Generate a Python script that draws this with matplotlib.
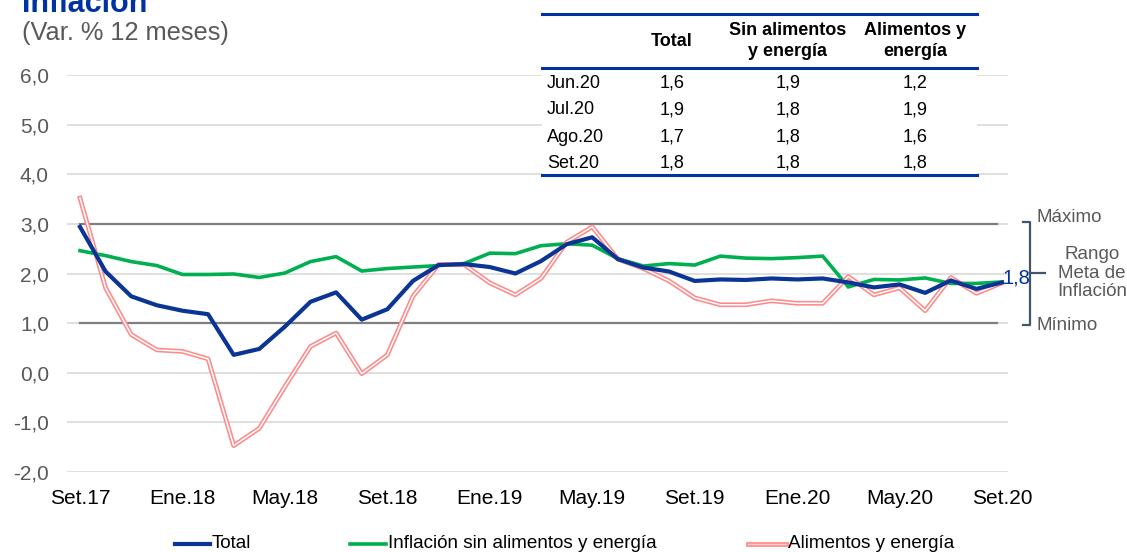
import matplotlib
matplotlib.use("Agg")
import matplotlib.pyplot as plt
from matplotlib.lines import Line2D
import numpy as np

plt.rcParams['font.family'] = ['Liberation Sans', 'DejaVu Sans']

# ---------------- data ----------------
months_es = ["Ene", "Feb", "Mar", "Abr", "May", "Jun", "Jul", "Ago", "Set", "Oct", "Nov", "Dic"]
start_year, start_month = 2017, 9
n_points = 37
labels = []
for i in range(n_points):
    m = (start_month - 1 + i) % 12
    y = start_year + (start_month - 1 + i) // 12
    labels.append(f"{months_es[m]}.{str(y)[2:]}")

total = [2.94, 2.04, 1.54, 1.36, 1.25, 1.18, 0.36, 0.48, 0.93, 1.43, 1.62, 1.07, 1.28,
         1.85, 2.17, 2.19, 2.13, 2.00, 2.25, 2.59, 2.73, 2.29, 2.12, 2.04, 1.85, 1.88,
         1.87, 1.90, 1.88, 1.90, 1.82, 1.72, 1.78, 1.61, 1.86, 1.69, 1.82]
core = [2.46, 2.36, 2.24, 2.16, 1.98, 1.98, 1.99, 1.92, 2.01, 2.24, 2.34, 2.05, 2.10,
        2.13, 2.16, 2.20, 2.41, 2.40, 2.56, 2.60, 2.57, 2.30, 2.15, 2.20, 2.17, 2.35,
        2.31, 2.30, 2.32, 2.35, 1.73, 1.88, 1.87, 1.91, 1.80, 1.80, 1.83]
food_energy = [3.52, 1.71, 0.77, 0.46, 0.43, 0.28, -1.47, -1.12, -0.28, 0.53, 0.80, -0.02,
               0.36, 1.54, 2.18, 2.18, 1.81, 1.57, 1.90, 2.63, 2.94, 2.29, 2.10, 1.85,
               1.51, 1.37, 1.37, 1.45, 1.40, 1.40, 1.94, 1.57, 1.71, 1.25, 1.92, 1.60, 1.81]

target_min, target_max = 1.0, 3.0
last_value_label = "1,8"

table_cols = ["Total", "Sin alimentos\ny energía", "Alimentos y\nenergía"]
table_rows = ["Jun.20", "Jul.20", "Ago.20", "Set.20"]
table_vals = [["1,6", "1,9", "1,2"],
              ["1,9", "1,8", "1,9"],
              ["1,7", "1,8", "1,6"],
              ["1,8", "1,8", "1,8"]]

legend_labels = ["Total", "Inflación sin alimentos y energía", "Alimentos y energía"]

# ---------------- styles ----------------
W, H = 1127, 552
BLUE = "#0B3595"
GREEN = "#00B050"
PINK = "#FF8A8A"
GRAY_TXT = "#595959"
BRACKET = "#44546A"

fig = plt.figure(figsize=(W / 100, H / 100), dpi=100)

def fx(px):
    return px / W

def fy(py):
    return 1 - py / H

ax_left, ax_right, ax_top, ax_bot = 67, 1008, 75, 472
ax = fig.add_axes([fx(ax_left), fy(ax_bot), fx(ax_right - ax_left), (ax_bot - ax_top) / H])

x = np.arange(n_points)
# x pixel 80 -> 0, 1002 -> 36
ppm = (1002 - 80) / 36
ax.set_xlim((ax_left - 80) / ppm, (ax_right - 80) / ppm)
ax.set_ylim(-2, 6)

yt = np.arange(-2, 7, 1)
ax.set_yticks(yt)
ax.set_yticklabels([f"{v:.1f}".replace(".", ",") for v in yt], color=GRAY_TXT, fontsize=15)
ax.set_xticks(x[::4])
ax.set_xticklabels(labels[::4], fontsize=15, color="black")
ax.tick_params(axis="both", length=0)
ax.tick_params(axis="y", pad=13)
ax.tick_params(axis="x", pad=12)
for s in ax.spines.values():
    s.set_visible(False)
ax.grid(axis="y", color="#D9D9D9", lw=1.2)
ax.set_axisbelow(True)

# target range lines
ax.plot([x[0], x[-1] - 0.2], [target_max, target_max], color="#7F7F7F", lw=1.6, zorder=1)
ax.plot([x[0], x[-1] - 0.2], [target_min, target_min], color="#7F7F7F", lw=1.6, zorder=1)

# series
ax.plot(x, core, color=GREEN, lw=2.6, zorder=3, solid_joinstyle="miter")
ax.plot(x, food_energy, color=PINK, lw=3.4, zorder=4)
ax.plot(x, food_energy, color="white", lw=1.1, zorder=5)
ax.plot(x, total, color=BLUE, lw=3.0, zorder=6)

# title & subtitle
fig.text(fx(22), fy(12), "Inflación", fontsize=22, fontweight="bold", color="#0033A0",
         va="baseline", ha="left")
fig.text(fx(22), fy(33), "(Var. % 12 meses)", fontsize=18.3, color=GRAY_TXT,
         va="center", ha="left")

# table (white background hiding gridlines)
fig.patches.append(plt.Rectangle((fx(542), fy(176)), fx(977 - 542), (176 - 13) / H,
                                 transform=fig.transFigure, facecolor="white",
                                 edgecolor="none", zorder=2))
for yy in (14, 68, 175):
    fig.add_artist(Line2D([fx(542), fx(977)], [fy(yy), fy(yy)], color="#0033A0", lw=2.2,
                          transform=fig.transFigure, zorder=3))
col_x = [672, 788, 915]
for cx, lab in zip(col_x, table_cols):
    fig.text(fx(cx), fy(41), lab, fontsize=13, fontweight="bold", ha="center", va="center",
             linespacing=1.25, zorder=4)
row_y = [83, 110, 137, 163]
for ry, rlab, vals in zip(row_y, table_rows, table_vals):
    fig.text(fx(547), fy(ry), rlab, fontsize=13, ha="left", va="center", zorder=4)
    for cx, v in zip(col_x, vals):
        fig.text(fx(cx), fy(ry), v, fontsize=13, ha="center", va="center", zorder=4)

# last value label
fig.text(fx(1003), fy(278), last_value_label, fontsize=14.5, color="#0033A0",
         ha="left", va="center")

# bracket for target range
bx = 1030
fig.add_artist(Line2D([fx(1023), fx(bx), fx(bx), fx(1023)], [fy(222), fy(222), fy(325), fy(325)],
                      color=BRACKET, lw=1.6, transform=fig.transFigure))
fig.add_artist(Line2D([fx(bx), fx(1045)], [fy(273), fy(273)], color=BRACKET, lw=1.6,
                      transform=fig.transFigure))
fig.text(fx(1037), fy(217), "Máximo", fontsize=13.5, color=GRAY_TXT, ha="left", va="center")
fig.text(fx(1037), fy(325), "Mínimo", fontsize=13.5, color=GRAY_TXT, ha="left", va="center")
fig.text(fx(1092), fy(273), "Rango\nMeta de\nInflación", fontsize=13.5, color=GRAY_TXT,
         ha="center", va="center", linespacing=1.12)

# legend (manual)
leg_y = 544
leg_items = [(175, 210, BLUE, 3.0), (350, 386, GREEN, 2.6), (748, 786, PINK, 3.4)]
for (x0, x1, c, lw), lab in zip(leg_items, legend_labels):
    fig.add_artist(Line2D([fx(x0), fx(x1)], [fy(leg_y), fy(leg_y)], color=c, lw=lw,
                          transform=fig.transFigure))
    if c == PINK:
        fig.add_artist(Line2D([fx(x0), fx(x1)], [fy(leg_y), fy(leg_y)], color="#FFD0D0", lw=1.0,
                              transform=fig.transFigure))
    fig.text(fx(x1 + 2), fy(leg_y), lab, fontsize=13.6,
             ha="left", va="center")

fig.savefig("out.png", dpi=100)
